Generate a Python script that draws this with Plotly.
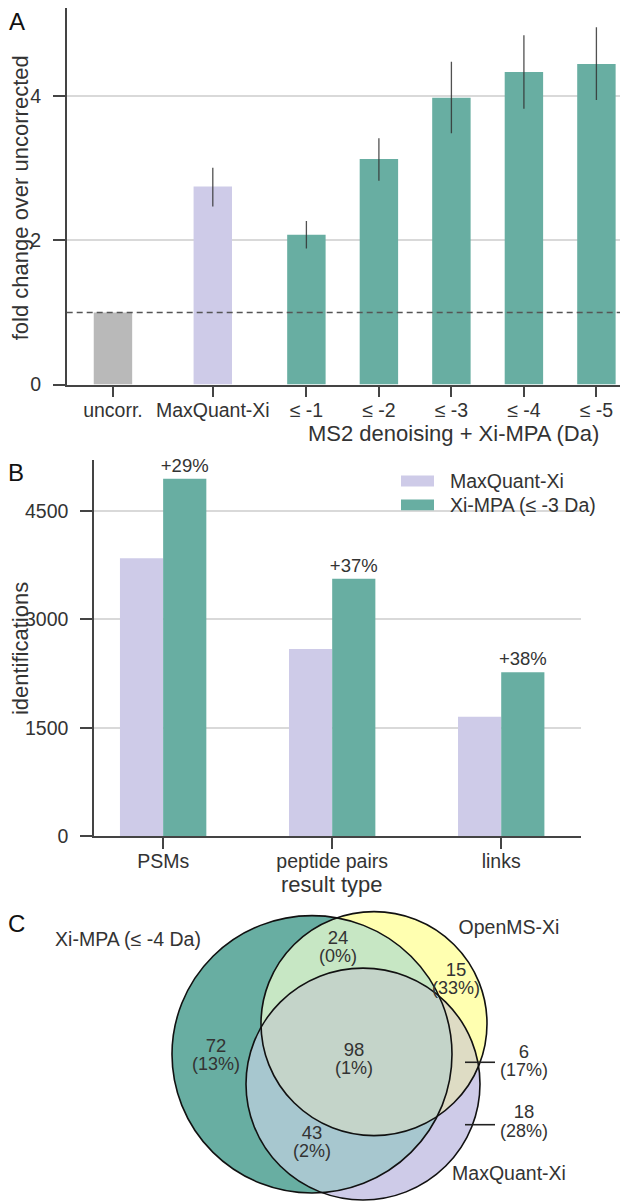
import numpy as np
import plotly.graph_objects as go

W, H = 628, 1204
FONT = "Liberation Sans, Arial, sans-serif"
TXT = "#333333"
AX = "#444444"
GRID = "#d9d9d9"
TEAL = "#68aea2"
LAV = "#cecbe8"
GRAY = "#b9b9b9"

# ---------------- Panel A data ----------------
a_labels = ["uncorr.", "MaxQuant-Xi", "≤ -1", "≤ -2", "≤ -3", "≤ -4", "≤ -5"]
a_values = [1.00, 2.75, 2.08, 3.13, 3.98, 4.34, 4.45]
a_upper = [1.00, 3.01, 2.27, 3.42, 4.48, 4.85, 4.96]
a_lower = [1.00, 2.47, 1.89, 2.83, 3.49, 3.83, 3.95]
a_xpos = [-2.668, -1.291, 0, 1, 2, 3, 4]
a_colors = [GRAY, LAV, TEAL, TEAL, TEAL, TEAL, TEAL]
a_reference = 1.0

# ---------------- Panel B data ----------------
b_cats = ["PSMs", "peptide pairs", "links"]
b_maxquant = [3847, 2589, 1652]
b_ximpa = [4949, 3563, 2269]
b_gain = ["+29%", "+37%", "+38%"]
b_names = ["MaxQuant-Xi", "Xi-MPA (≤ -3 Da)"]

# ---------------- Panel C data ----------------
v_sets = ["Xi-MPA (≤ -4 Da)", "OpenMS-Xi", "MaxQuant-Xi"]
v_counts = [72, 24, 15, 98, 43, 6, 18]
v_pcts = [13, 0, 33, 1, 2, 17, 28]

# geometry (pixel space of the figure)
v_circles = [(304, 1056, 140), (366, 1025, 113), (355, 1086, 117)]
v_label_xy = [(208, 1049), (330, 940), (448, 972), (346, 1053), (304, 1137), (516, 1055), (516, 1116)]
v_set_label_xy = [(120, 942), (501, 930), (501, 1178)]

def px(x):
    return x / W

def py(y):
    return 1 - y / H

fig = go.Figure()

# ---- Panel A bars ----
fig.add_trace(go.Bar(
    x=a_xpos, y=a_values, width=0.53,
    marker=dict(color=a_colors, line=dict(width=0)),
    error_y=dict(type="data", symmetric=False,
                 array=[u - v for u, v in zip(a_upper, a_values)],
                 arrayminus=[v - l for v, l in zip(a_values, a_lower)],
                 color="rgba(50,50,50,0.85)", thickness=1.3, width=0),
    xaxis="x", yaxis="y", showlegend=False, hoverinfo="skip",
))

# ---- Panel B bars ----
fig.add_trace(go.Bar(
    x=b_cats, y=b_maxquant, name=b_names[0], marker=dict(color=LAV, line=dict(width=0)),
    xaxis="x2", yaxis="y2", showlegend=False, hoverinfo="skip", offsetgroup="a",
))
fig.add_trace(go.Bar(
    x=b_cats, y=b_ximpa, name=b_names[1], marker=dict(color=TEAL, line=dict(width=0)),
    text=b_gain, textposition="outside", constraintext="none", cliponaxis=False,
    textfont=dict(size=18.5, color=TXT, family=FONT),
    xaxis="x2", yaxis="y2", showlegend=False, hoverinfo="skip", offsetgroup="b",
))

# ---- Panel C numbers (text trace on pixel axes) ----
fig.add_trace(go.Scatter(
    x=[p[0] for p in v_label_xy], y=[p[1] for p in v_label_xy],
    text=[str(c) for c in v_counts], mode="text",
    textfont=dict(size=18.5, color=TXT, family=FONT),
    xaxis="x3", yaxis="y3", showlegend=False, hoverinfo="skip",
))
fig.add_trace(go.Scatter(
    x=[p[0] for p in v_label_xy], y=[p[1] + 18.5 for p in v_label_xy],
    text=["(%d%%)" % p for p in v_pcts], mode="text",
    textfont=dict(size=18, color=TXT, family=FONT),
    xaxis="x3", yaxis="y3", showlegend=False, hoverinfo="skip",
))
fig.add_trace(go.Scatter(
    x=[p[0] for p in v_set_label_xy], y=[p[1] for p in v_set_label_xy],
    text=v_sets, mode="text",
    textfont=dict(size=19.5, color=TXT, family=FONT),
    xaxis="x3", yaxis="y3", showlegend=False, hoverinfo="skip",
))

shapes = []
annotations = []

# dashed reference line in panel A
shapes.append(dict(type="line", xref="x domain", yref="y", x0=0, x1=1,
                   y0=a_reference, y1=a_reference,
                   line=dict(color="#555555", width=1.5, dash="6px,4px")))

# ---- Venn regions ----
def circle_points(c, n=1440):
    t = np.linspace(0, 2 * np.pi, n, endpoint=False)
    return np.c_[c[0] + c[2] * np.cos(t), c[1] + c[2] * np.sin(t)]

def inside(pts, c):
    return np.hypot(pts[:, 0] - c[0], pts[:, 1] - c[1]) <= c[2] + 1e-6

def intersection_path(idx):
    pts = []
    for i in idx:
        p = circle_points(v_circles[i])
        mask = np.ones(len(p), bool)
        for j in idx:
            if j != i:
                mask &= inside(p, v_circles[j])
        pts.append(p[mask])
    pts = np.vstack(pts)
    cx, cy = pts.mean(axis=0)
    order = np.argsort(np.arctan2(pts[:, 1] - cy, pts[:, 0] - cx))
    pts = pts[order]
    return "M " + " L ".join("%.2f,%.2f" % (x, y) for x, y in pts) + " Z"

single_colors = ["#68aea2", "#ffffb0", "#cecbe8"]
for c, col in zip(v_circles, single_colors):
    shapes.append(dict(type="circle", xref="x3", yref="y3",
                       x0=c[0] - c[2], x1=c[0] + c[2], y0=c[1] - c[2], y1=c[1] + c[2],
                       fillcolor=col, line=dict(width=0), layer="below"))
pair_colors = {(0, 1): "#c7e7c4", (0, 2): "#a7c7cf", (1, 2): "#dedcc4", (0, 1, 2): "#c4d4c9"}
for idx, col in pair_colors.items():
    shapes.append(dict(type="path", xref="x3", yref="y3", path=intersection_path(idx),
                       fillcolor=col, line=dict(width=0), layer="below"))
for c in v_circles:
    shapes.append(dict(type="circle", xref="x3", yref="y3",
                       x0=c[0] - c[2], x1=c[0] + c[2], y0=c[1] - c[2], y1=c[1] + c[2],
                       fillcolor="rgba(0,0,0,0)", line=dict(width=1.6, color="#111111"), layer="below"))
# leader lines for small regions
for yy in (1064, 1127):
    shapes.append(dict(type="line", xref="x3", yref="y3", x0=457, x1=487, y0=yy, y1=yy,
                       line=dict(width=1.6, color="#222222"), layer="below"))

# ---- manual legend panel B ----
for (y0, y1), col, name, ty in [((471.7, 483.0), LAV, b_names[0], 477),
                                ((496.0, 507.0), TEAL, b_names[1], 501.5)]:
    shapes.append(dict(type="rect", xref="paper", yref="paper",
                       x0=px(393), x1=px(426), y0=py(y1), y1=py(y0),
                       fillcolor=col, line=dict(width=0)))
    annotations.append(dict(text=name, x=px(440), y=py(ty), xref="paper", yref="paper",
                            xanchor="left", yanchor="middle", showarrow=False,
                            font=dict(size=19.5, color=TXT, family=FONT)))

# ---- titles and panel letters ----
def ann(text, x, y, size, angle=0, color=TXT):
    annotations.append(dict(text=text, x=px(x), y=py(y), xref="paper", yref="paper",
                            xanchor="center", yanchor="middle", showarrow=False,
                            textangle=angle, font=dict(size=size, color=color, family=FONT)))

ann("fold change over uncorrected", 12, 192, 22, -90)
ann("MS2 denoising + Xi-MPA (Da)", 445, 429, 22)
ann("identifications", 12, 647, 22, -90)
ann("result type", 324, 885, 22)
ann("A", 9, 14, 24, color="#111111")
ann("B", 8, 469, 24, color="#111111")
ann("C", 8, 924, 24, color="#111111")

common_x = dict(ticks="outside", ticklen=11, tickwidth=1.5, tickcolor=AX,
                showline=True, linecolor=AX, linewidth=1.5, showgrid=False, zeroline=False,
                ticklabelstandoff=-4,
                tickfont=dict(size=19.5, color=TXT, family=FONT), fixedrange=True)
common_y = dict(ticks="outside", ticklen=12, tickwidth=1.5, tickcolor=AX,
                showline=True, linecolor=AX, linewidth=1.5, showgrid=True,
                gridcolor=GRID, gridwidth=1.5, zeroline=False, ticklabelstandoff=8,
                tickfont=dict(size=19.5, color=TXT, family=FONT), fixedrange=True)

fig.update_layout(
    width=W, height=H,
    margin=dict(l=0, r=0, t=0, b=0),
    paper_bgcolor="white", plot_bgcolor="rgba(0,0,0,0)",
    barmode="group", bargap=0.489, bargroupgap=0,
    font=dict(family=FONT, color=TXT),
    hovermode=False,
    shapes=shapes, annotations=annotations,
    xaxis=dict(common_x, domain=[px(58.7), 1], range=[-3.306, 4.546],
               tickvals=a_xpos, ticktext=a_labels, anchor="y"),
    yaxis=dict(common_y, domain=[py(380), py(0)], range=[0, 5.227],
               tick0=0, dtick=2, anchor="x"),
    xaxis2=dict(common_x, domain=[px(86), px(573)], range=[-0.409, 2.472],
                type="category", anchor="y2"),
    yaxis2=dict(common_y, domain=[py(835.7), py(456)], range=[0, 5210],
                tick0=0, dtick=1500, anchor="x2"),
    xaxis3=dict(domain=[0, 1], range=[0, W], visible=False, anchor="y3", fixedrange=True),
    yaxis3=dict(domain=[0, 1], range=[H, 0], visible=False, anchor="x3", fixedrange=True),
)

fig.write_html("out.html")
